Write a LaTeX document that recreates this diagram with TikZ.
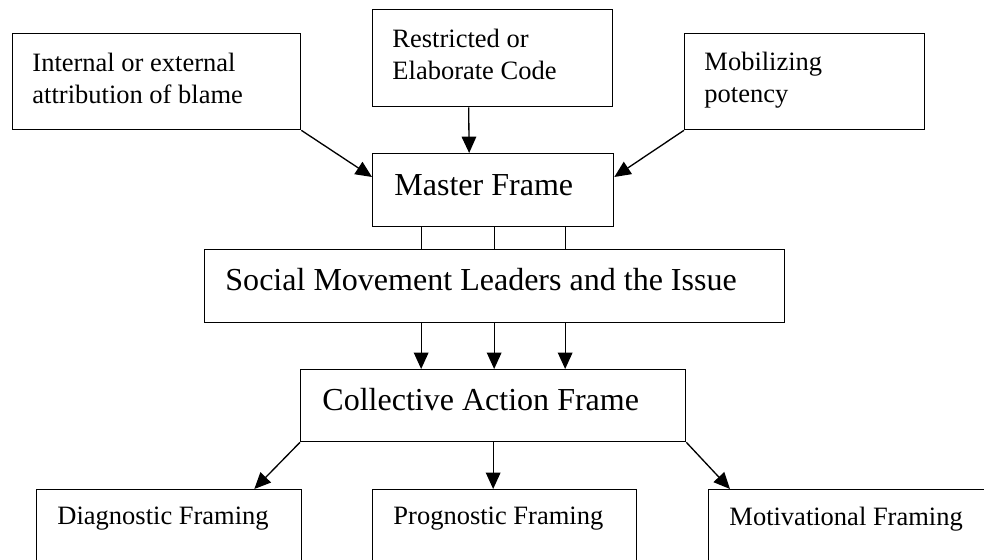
\documentclass[tikz,border=0pt]{standalone}
\usepackage{fontspec}
\setmainfont{Liberation Serif}
\usetikzlibrary{arrows.meta,calc}
\newlength\pxu
\setlength\pxu{0.4528pt}
\begin{document}
\begin{tikzpicture}[x=0.4528pt,y=-0.4528pt,
	box/.style={draw,line width=0.6pt,rectangle,inner sep=0pt,anchor=north west},
	tag/.style={anchor=north west,inner sep=0pt,align=left,font=\fontsize{12}{14.4}\selectfont},
	bigtag/.style={tag,font=\fontsize{14.5}{17.4}\selectfont},
	arr/.style={line width=0.6pt,-{Triangle[length=7.4pt,width=6.6pt]}}]
\useasboundingbox(0,0)rectangle(984,560);
\node[box,minimum width=288\pxu,minimum height=96\pxu,label={[tag,xshift=20\pxu,yshift=-20\pxu]north west:Internal or external\\attribution of blame}](blame)at(12,33){};
\node[box,minimum width=240\pxu,minimum height=97\pxu,label={[tag,xshift=20\pxu,yshift=-20\pxu]north west:Restricted or\\Elaborate Code}](restr)at(372,9){};
\node[box,minimum width=240\pxu,minimum height=96\pxu,label={[tag,xshift=20\pxu,yshift=-19\pxu]north west:Mobilizing\\potency}](mob)at(684,33){};
\node[box,minimum width=241\pxu,minimum height=73\pxu,label={[bigtag,xshift=22\pxu,yshift=-21\pxu]north west:Master Frame}](master)at(372,153){};
\node[box,minimum width=580\pxu,minimum height=73\pxu,label={[bigtag,xshift=21\pxu,yshift=-19\pxu]north west:Social Movement Leaders and the Issue}](social)at(204,249){};
\node[box,minimum width=385\pxu,minimum height=72\pxu,label={[bigtag,xshift=22\pxu,yshift=-19\pxu]north west:Collective Action Frame}](collect)at(300,369){};
\node[box,minimum width=265\pxu,minimum height=100\pxu,label={[tag,xshift=21\pxu,yshift=-18\pxu]north west:Diagnostic Framing}](diag)at(36,489){};
\node[box,minimum width=264\pxu,minimum height=100\pxu,label={[tag,xshift=21\pxu,yshift=-18\pxu]north west:Prognostic Framing}](prog)at(372,489){};
\node[box,minimum width=282\pxu,minimum height=100\pxu,label={[tag,xshift=21\pxu,yshift=-18\pxu]north west:Motivational Framing}](motiv)at(708,489){};
\draw[arr](blame.south east)--($(master.north west)+(0,24)$);
\draw[arr]($(restr.south)+(-24,0)$)--($(master.north)+(-24,0)$);
\draw[arr](mob.south west)--($(master.north east)+(0,24)$);
\foreach \dx [count=\i] in {-72,1,72}{
	\coordinate(m\i)at($(master.south)+(\dx,0)$);
	\draw[line width=0.6pt](m\i)--(m\i|-social.north);
	\draw[arr](m\i|-social.south)--(m\i|-collect.north);
}
\draw[arr](collect.south west)--($(diag.north east)+(-48,0)$);
\draw[arr](collect.south)--(collect.south|-prog.north);
\draw[arr](collect.south east)--($(motiv.north west)+(22,0)$);
\end{tikzpicture}
\end{document}
